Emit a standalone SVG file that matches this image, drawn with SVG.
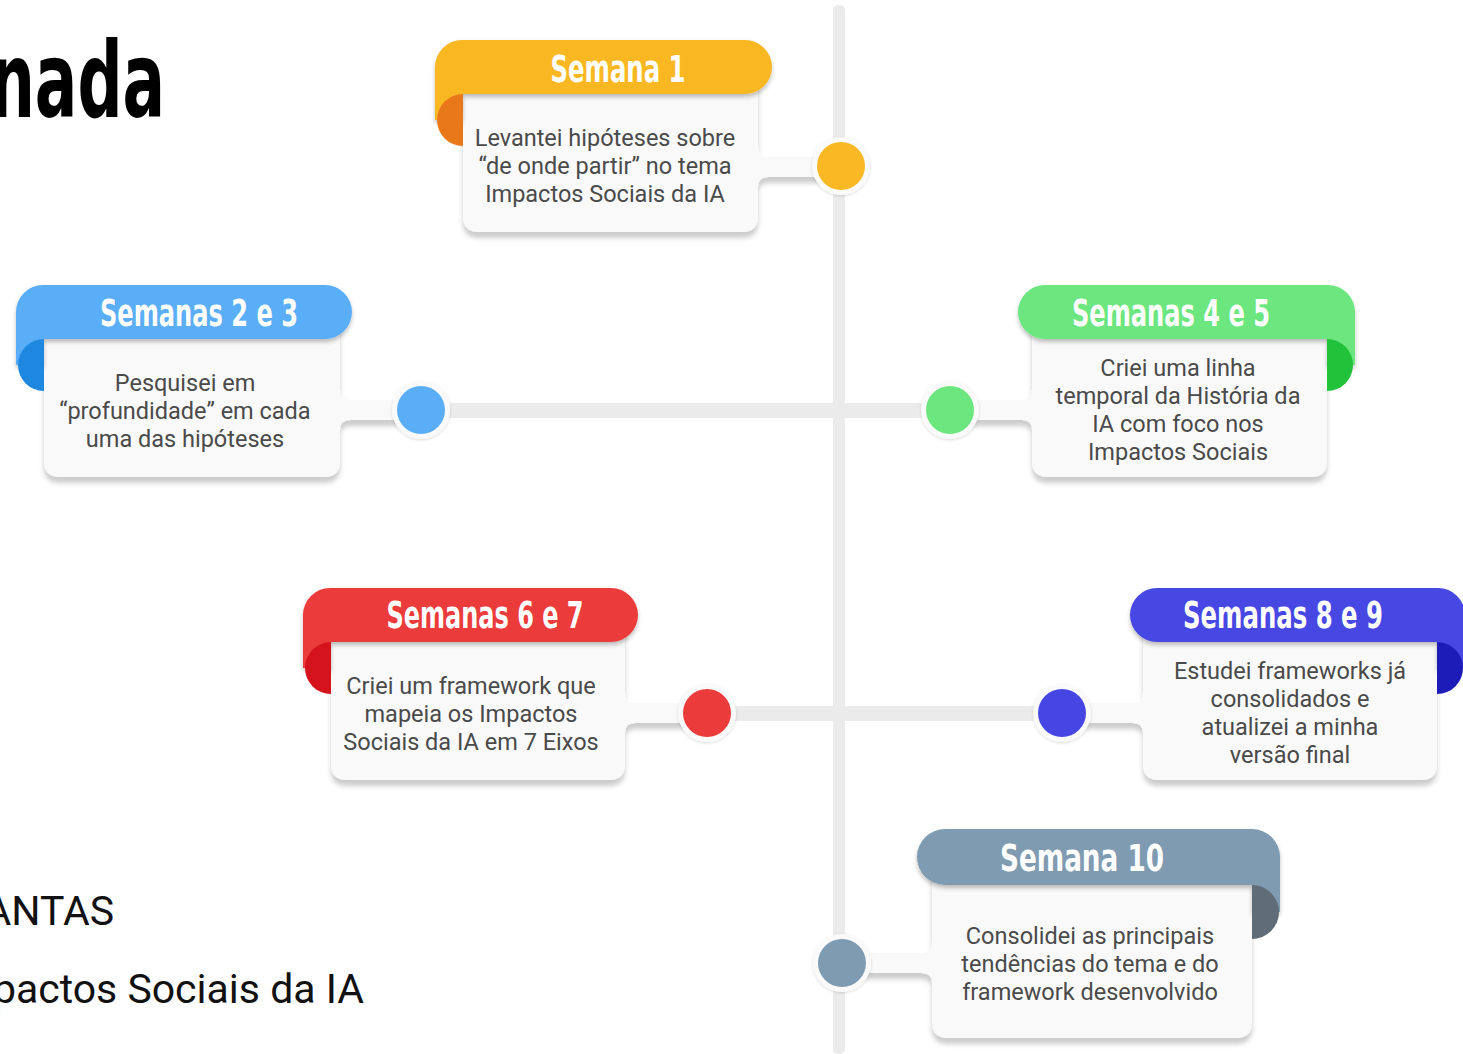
<svg xmlns="http://www.w3.org/2000/svg" width="1463" height="1054" viewBox="0 0 1463 1054">
<defs>
<filter id="sh" x="-10%" y="-10%" width="120%" height="130%">
<feDropShadow dx="0" dy="6" stdDeviation="2.5" flood-color="#000" flood-opacity="0.2"/>
</filter>
<filter id="hs" x="-10%" y="-20%" width="120%" height="160%">
<feDropShadow dx="0" dy="3" stdDeviation="2" flood-color="#000" flood-opacity="0.25"/>
</filter>
<filter id="rs" x="-30%" y="-30%" width="160%" height="160%">
<feDropShadow dx="0" dy="1" stdDeviation="1.5" flood-color="#000" flood-opacity="0.15"/>
</filter>
</defs>
<style>
.card{fill:#f9f9f9;filter:url(#sh)}
.ring{fill:#fafafa;filter:url(#rs)}
.hdr{font-family:"Liberation Sans Narrow","DejaVu Sans Condensed","Roboto",sans-serif;font-stretch:condensed;font-weight:bold;font-size:37px;fill:#ffffff;text-anchor:middle}
.body{font-family:Roboto,"Liberation Sans",sans-serif;font-size:23.5px;fill:#4a4a4a;text-anchor:middle}
.big{font-family:"Liberation Sans Narrow","DejaVu Sans Condensed","Liberation Sans",sans-serif;font-stretch:condensed;font-weight:bold;font-size:106px;fill:#000;text-anchor:end}
.sub{font-family:Roboto,"Liberation Sans",sans-serif;font-size:41px;fill:#111;text-anchor:end}
.bar{fill:#ebebeb}
</style>
<rect width="1463" height="1054" fill="#ffffff"/>
<text class="big" x="165" y="117" textLength="175" lengthAdjust="spacingAndGlyphs">nada</text>
<text class="sub" x="114" y="925">ANTAS</text>
<text class="sub" x="364" y="1003">pactos Sociais da IA</text>
<g id="connectors">
<rect class="bar" x="833" y="5" width="12" height="1049" rx="5"/>
<rect class="bar" x="421" y="403" width="529" height="15"/>
<rect class="bar" x="707" y="706" width="355" height="15"/>
</g>
<g id="s1">
<path class="card" d="M463,80 L758,80 L758,147 Q758,157 768,157 L835,157 L835,177 L768,177 Q758,177 758,187 L758,216 Q758,232 742,232 L479,232 Q463,232 463,216 Z"/>
<circle class="ring" cx="841" cy="166" r="29"/>
<circle cx="841" cy="166" r="24" fill="#f9b824"/>
<path d="M435,67 A27,27 0 0 1 462,40 L745,40 A27,27 0 0 1 745,94 L463,94 L463,120 L435,120 Z" fill="#f9b824" filter="url(#hs)"/>
<path d="M463,94 A26,26 0 0 0 463,146 Z" fill="#e8781a"/>
<text class="hdr" x="618" y="82" textLength="135" lengthAdjust="spacingAndGlyphs">Semana 1</text>
<text class="body" x="605" y="146">Levantei hipóteses sobre</text>
<text class="body" x="605" y="174">“de onde partir” no tema</text>
<text class="body" x="605" y="202">Impactos Sociais da IA</text>
</g>
<g id="s2e3">
<path class="card" d="M44,325 L340,325 L340,390 Q340,400 350,400 L415,400 L415,420 L350,420 Q340,420 340,430 L340,461 Q340,477 324,477 L60,477 Q44,477 44,461 Z"/>
<circle class="ring" cx="421" cy="410" r="29"/>
<circle cx="421" cy="410" r="24" fill="#5aaef7"/>
<path d="M16,312 A27,27 0 0 1 43,285 L325,285 A27,27 0 0 1 325,339 L44,339 L44,365 L16,365 Z" fill="#5aaef7" filter="url(#hs)"/>
<path d="M44,339 A26,26 0 0 0 44,391 Z" fill="#1e88e0"/>
<text class="hdr" x="199" y="326" textLength="198" lengthAdjust="spacingAndGlyphs">Semanas 2 e 3</text>
<text class="body" x="185" y="391">Pesquisei em</text>
<text class="body" x="185" y="419">“profundidade” em cada</text>
<text class="body" x="185" y="447">uma das hipóteses</text>
</g>
<g id="s4e5">
<path class="card" d="M1327,325 L1032,325 L1032,390 Q1032,400 1022,400 L956,400 L956,420 L1022,420 Q1032,420 1032,430 L1032,461 Q1032,477 1048,477 L1311,477 Q1327,477 1327,461 Z"/>
<circle class="ring" cx="950" cy="410" r="29"/>
<circle cx="950" cy="410" r="24" fill="#6ce67e"/>
<path d="M1355,312 A27,27 0 0 0 1328,285 L1045,285 A27,27 0 0 0 1045,339 L1327,339 L1327,365 L1355,365 Z" fill="#6ce67e" filter="url(#hs)"/>
<path d="M1327,339 A26,26 0 0 1 1327,391 Z" fill="#22c23a"/>
<text class="hdr" x="1171" y="326" textLength="198" lengthAdjust="spacingAndGlyphs">Semanas 4 e 5</text>
<text class="body" x="1178" y="376">Criei uma linha</text>
<text class="body" x="1178" y="404">temporal da História da</text>
<text class="body" x="1178" y="432">IA com foco nos</text>
<text class="body" x="1178" y="460">Impactos Sociais</text>
</g>
<g id="s6e7">
<path class="card" d="M331,628 L625,628 L625,693 Q625,703 635,703 L701,703 L701,723 L635,723 Q625,723 625,733 L625,764 Q625,780 609,780 L347,780 Q331,780 331,764 Z"/>
<circle class="ring" cx="707" cy="713" r="29"/>
<circle cx="707" cy="713" r="24" fill="#ec3b3b"/>
<path d="M303,615 A27,27 0 0 1 330,588 L611,588 A27,27 0 0 1 611,642 L331,642 L331,668 L303,668 Z" fill="#ec3b3b" filter="url(#hs)"/>
<path d="M331,642 A26,26 0 0 0 331,694 Z" fill="#d4131c"/>
<text class="hdr" x="485" y="628" textLength="197" lengthAdjust="spacingAndGlyphs">Semanas 6 e 7</text>
<text class="body" x="471" y="694">Criei um framework que</text>
<text class="body" x="471" y="722">mapeia os Impactos</text>
<text class="body" x="471" y="750">Sociais da IA em 7 Eixos</text>
</g>
<g id="s8e9">
<path class="card" d="M1437,628 L1143,628 L1143,693 Q1143,703 1133,703 L1068,703 L1068,723 L1133,723 Q1143,723 1143,733 L1143,764 Q1143,780 1159,780 L1421,780 Q1437,780 1437,764 Z"/>
<circle class="ring" cx="1062" cy="713" r="29"/>
<circle cx="1062" cy="713" r="24" fill="#4646e4"/>
<path d="M1465,615 A27,27 0 0 0 1438,588 L1157,588 A27,27 0 0 0 1157,642 L1437,642 L1437,668 L1465,668 Z" fill="#4646e4" filter="url(#hs)"/>
<path d="M1437,642 A26,26 0 0 1 1437,694 Z" fill="#1c1cb8"/>
<text class="hdr" x="1283" y="628" textLength="200" lengthAdjust="spacingAndGlyphs">Semanas 8 e 9</text>
<text class="body" x="1290" y="679">Estudei frameworks já</text>
<text class="body" x="1290" y="707">consolidados e</text>
<text class="body" x="1290" y="735">atualizei a minha</text>
<text class="body" x="1290" y="763">versão final</text>
</g>
<g id="s10">
<path class="card" d="M1252,870 L932,870 L932,943 Q932,953 922,953 L848,953 L848,973 L922,973 Q932,973 932,983 L932,1022 Q932,1038 948,1038 L1236,1038 Q1252,1038 1252,1022 Z"/>
<circle class="ring" cx="842" cy="963" r="29"/>
<circle cx="842" cy="963" r="24" fill="#7f9bb1"/>
<path d="M1280,857 A28,28 0 0 0 1252,829 L945,829 A28,28 0 0 0 945,885 L1252,885 L1252,912 L1280,912 Z" fill="#7f9bb1" filter="url(#hs)"/>
<path d="M1252,885 A27,27 0 0 1 1252,939 Z" fill="#606c78"/>
<text class="hdr" x="1082" y="871" textLength="164" lengthAdjust="spacingAndGlyphs">Semana 10</text>
<text class="body" x="1090" y="944">Consolidei as principais</text>
<text class="body" x="1090" y="972">tendências do tema e do</text>
<text class="body" x="1090" y="1000">framework desenvolvido</text>
</g>
</svg>
